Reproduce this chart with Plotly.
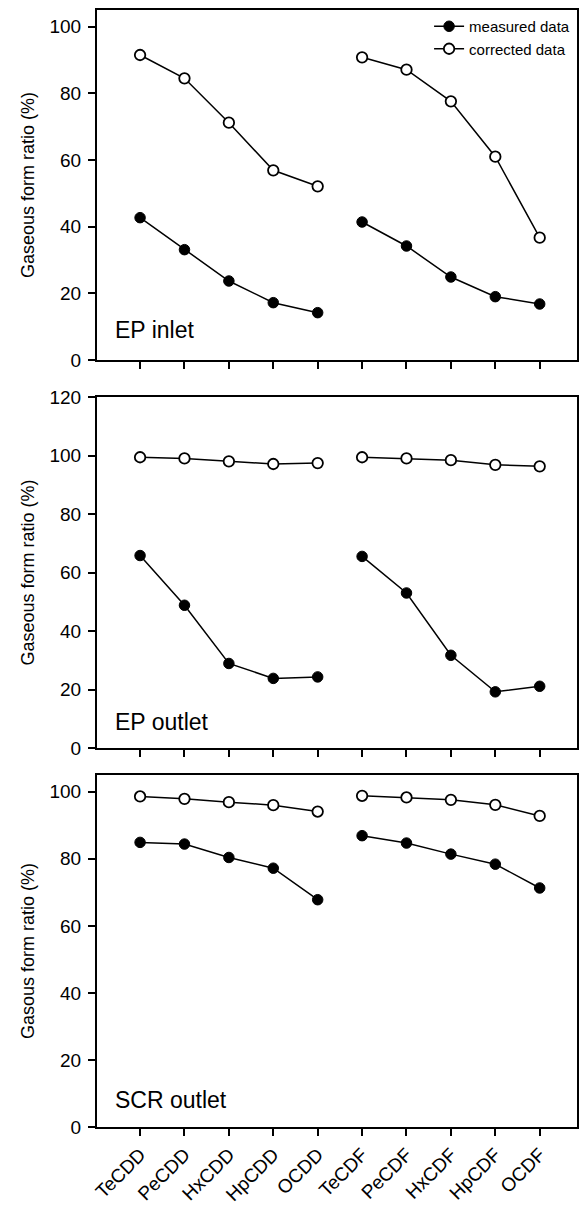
import plotly.graph_objects as go

categories = ["TeCDD", "PeCDD", "HxCDD", "HpCDD", "OCDD",
              "TeCDF", "PeCDF", "HxCDF", "HpCDF", "OCDF"]

panel_labels = ["EP inlet", "EP outlet", "SCR outlet"]
y_titles = ["Gaseous form ratio (%)", "Gaseous form ratio (%)", "Gasous form ratio (%)"]

# EP inlet
inlet_measured_cdd = [42.7, 33.1, 23.7, 17.2, 14.2]
inlet_measured_cdf = [41.4, 34.2, 24.9, 19.0, 16.8]
inlet_corrected_cdd = [91.5, 84.5, 71.2, 56.9, 52.1]
inlet_corrected_cdf = [90.8, 87.1, 77.6, 61.0, 36.7]

# EP outlet
epout_measured_cdd = [65.8, 48.8, 28.9, 23.8, 24.3]
epout_measured_cdf = [65.5, 53.0, 31.7, 19.2, 21.1]
epout_corrected_cdd = [99.4, 99.0, 98.0, 97.1, 97.4]
epout_corrected_cdf = [99.4, 99.0, 98.4, 96.8, 96.3]

# SCR outlet
scr_measured_cdd = [84.9, 84.4, 80.4, 77.2, 67.8]
scr_measured_cdf = [86.9, 84.7, 81.4, 78.4, 71.3]
scr_corrected_cdd = [98.6, 97.9, 96.9, 96.0, 94.1]
scr_corrected_cdf = [98.8, 98.3, 97.6, 96.1, 92.8]

y_ranges = [[0, 105], [0, 120], [0, 105]]
y_dtick = [20, 20, 20]

panels = [
    (inlet_measured_cdd, inlet_measured_cdf, inlet_corrected_cdd, inlet_corrected_cdf),
    (epout_measured_cdd, epout_measured_cdf, epout_corrected_cdd, epout_corrected_cdf),
    (scr_measured_cdd, scr_measured_cdf, scr_corrected_cdd, scr_corrected_cdf),
]

# page has an 8px body margin; figure is sized to fit inside the window
OFF = 8
W, H = 587 - OFF, 1209 - OFF
L, R, T, B = 97 - OFF, 10, 10 - OFF, 82
plot_h = H - T - B

def pfrac(top_px, bot_px):
    # page pixel coordinates -> paper fraction
    top_px -= OFF
    bot_px -= OFF
    return [(H - B - bot_px) / plot_h, (H - B - top_px) / plot_h]

domains = [pfrac(10, 360), pfrac(397, 748), pfrac(775, 1127)]
label_y = [0.086, 0.075, 0.077]

fig = go.Figure()
font_family = "Liberation Sans, Arial, sans-serif"

xpos = list(range(len(categories)))
for i, (m_cdd, m_cdf, c_cdd, c_cdf) in enumerate(panels):
    xa = "x" if i == 0 else f"x{i+1}"
    ya = "y" if i == 0 else f"y{i+1}"
    ym = list(m_cdd) + [None] + list(m_cdf)
    yc = list(c_cdd) + [None] + list(c_cdf)
    xs = xpos[:5] + [None] + xpos[5:]
    fig.add_trace(go.Scatter(
        x=xs, y=ym, mode="lines+markers", name="measured data",
        xaxis=xa, yaxis=ya, connectgaps=False, showlegend=(i == 0),
        line=dict(color="black", width=1.5),
        marker=dict(symbol="circle", size=10.5, color="black",
                    line=dict(color="black", width=1)),
    ))
    fig.add_trace(go.Scatter(
        x=xs, y=yc, mode="lines+markers", name="corrected data",
        xaxis=xa, yaxis=ya, connectgaps=False, showlegend=(i == 0),
        line=dict(color="black", width=1.5),
        marker=dict(symbol="circle", size=10.5, color="white",
                    line=dict(color="black", width=1.8)),
    ))
    xkey = "xaxis" if i == 0 else f"xaxis{i+1}"
    ykey = "yaxis" if i == 0 else f"yaxis{i+1}"
    fig.layout[xkey] = dict(
        domain=[0, 1], anchor=ya, range=[-0.97, 9.84],
        tickmode="array", tickvals=xpos,
        ticktext=categories if i == 2 else [""] * len(categories),
        showticklabels=(i == 2), tickangle=-45,
        ticks="outside", ticklen=7, tickwidth=1.5, tickcolor="black",
        showline=True, linecolor="black", linewidth=2, mirror=True,
        showgrid=False, zeroline=False, automargin=False,
        tickfont=dict(family=font_family, size=19, color="black"),
    )
    fig.layout[ykey] = dict(
        domain=domains[i], anchor=xa, range=y_ranges[i],
        tickmode="linear", tick0=0, dtick=y_dtick[i],
        ticks="outside", ticklen=7, tickwidth=1.5, tickcolor="black",
        ticklabelstandoff=3,
        showline=True, linecolor="black", linewidth=2, mirror=True,
        showgrid=False, zeroline=False, automargin=False,
        tickfont=dict(family=font_family, size=19, color="black"),
        title=dict(text=y_titles[i], standoff=10,
                   font=dict(family=font_family, size=18, color="black")),
    )
    fig.add_annotation(
        text=panel_labels[i], xref=f"{xa} domain", yref=f"{ya} domain",
        x=0.033, y=label_y[i], xanchor="left", yanchor="middle",
        showarrow=False, font=dict(family=font_family, size=23, color="black"),
    )

fig.update_layout(
    width=W, height=H,
    margin=dict(l=L, r=R, t=T, b=B),
    plot_bgcolor="white", paper_bgcolor="white",
    legend=dict(x=0.996, y=1.0, xanchor="right", yanchor="top",
                bgcolor="rgba(0,0,0,0)", borderwidth=0, tracegroupgap=0,
                font=dict(family=font_family, size=15, color="black")),
)

fig.write_html("out.html")
